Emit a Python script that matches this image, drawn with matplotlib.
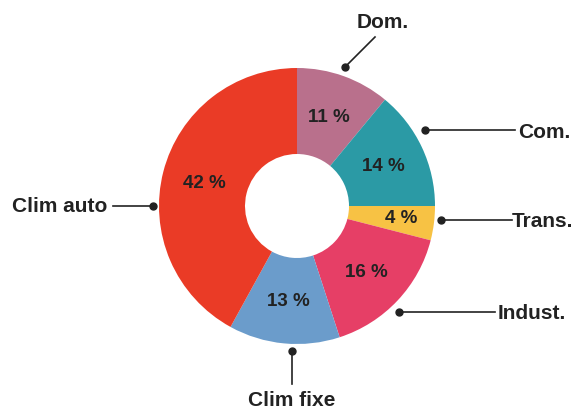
import matplotlib.pyplot as plt

plt.rcParams["font.family"] = ["Liberation Sans", "DejaVu Sans"]

labels = ["Dom.", "Com.", "Trans.", "Indust.", "Clim fixe", "Clim auto"]
shares = [11, 14, 4, 16, 13, 42]
colors = ["#b9708c", "#2b9aa5", "#f7c244", "#e63f66", "#6b9ccb", "#ea3b26"]

H = 410  # figure height in px, used to flip image y coords


def fy(y):
    return H - y


fig = plt.figure(figsize=(5.76, 4.10), dpi=100)
ax = fig.add_axes([0, 0, 1, 1])

wedges, texts, autotexts = ax.pie(
    shares,
    colors=colors,
    startangle=90,
    counterclock=False,
    radius=138,
    center=(297, fy(207)),
    wedgeprops=dict(width=86, linewidth=0),
    autopct=lambda p: f"{p:.0f} %",
    pctdistance=0.69,
    textprops=dict(fontsize=13.5, fontweight="bold", color="#222222"),
)
# nudge the small Trans. label a bit outward like the original
autotexts[2].set_x(autotexts[2].get_position()[0] + 10)

# callouts: dot, line end, text anchor
callouts = [
    ((345, 68), (375, 38), (383, 22), "center", "center"),
    ((425, 131), (515, 131), (518, 132), "left", "center"),
    ((441, 221), (512, 221), (512, 222), "left", "center"),
    ((399, 313), (495, 313), (498, 314), "left", "center"),
    ((292, 352), (292, 385), (292, 401), "center", "center"),
    ((153, 207), (113, 207), (107, 207), "right", "center"),
]
for name, (dot, end, txt, ha, va) in zip(labels, callouts):
    ax.plot([dot[0], end[0]], [fy(dot[1]), fy(end[1])], color="#222222", lw=1.2)
    ax.plot(dot[0], fy(dot[1]), "o", color="#222222", ms=5)
    ax.text(txt[0], fy(txt[1]), name, ha=ha, va=va, fontsize=15,
            fontweight="bold", color="#222222")

ax.set_xlim(0, 576)
ax.set_ylim(0, H)
ax.set_aspect("equal")
ax.axis("off")

fig.savefig("out.png", dpi=100)
